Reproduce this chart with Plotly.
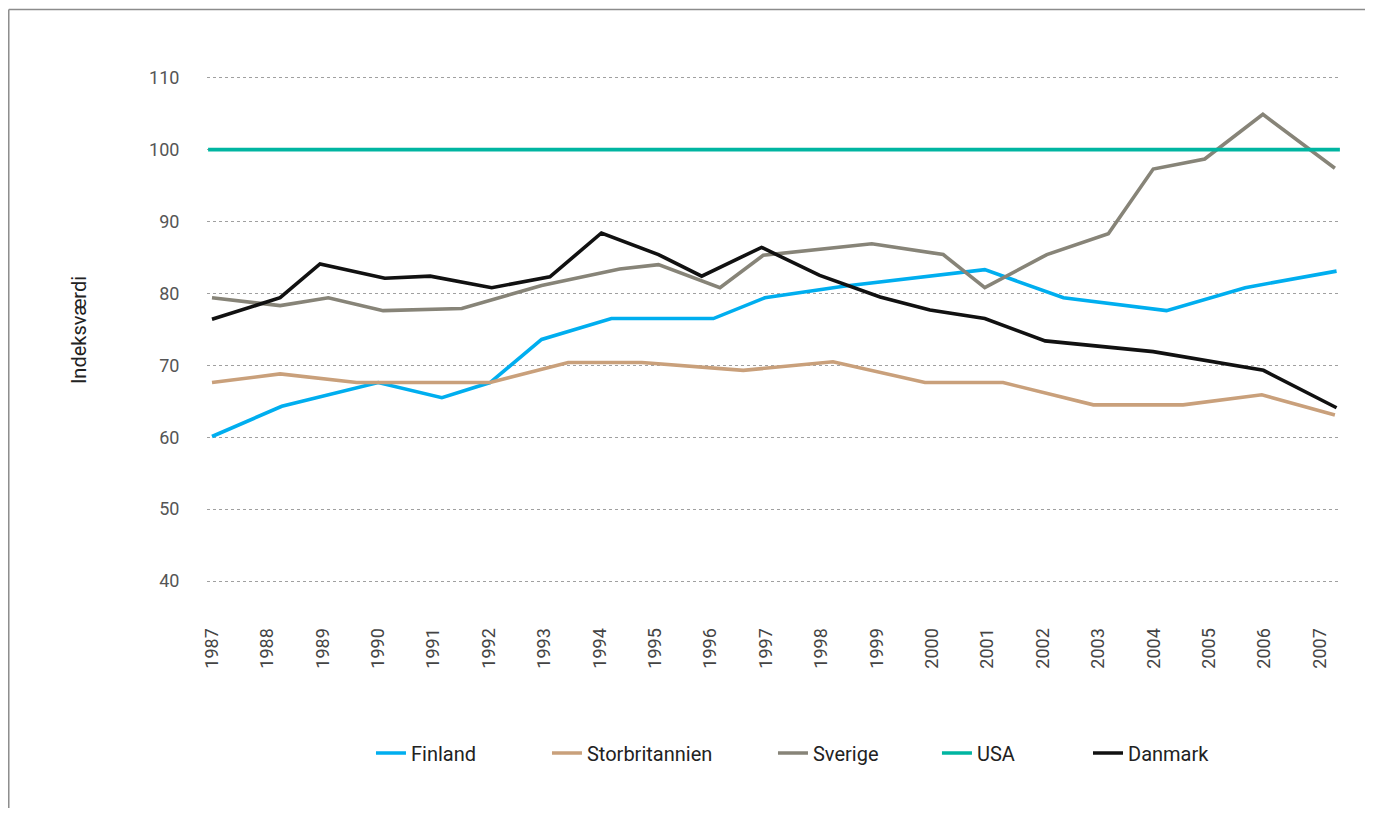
import plotly.graph_objects as go

# x positions are fractional years (points in the source are not evenly spaced)
fin_x = [1987.0, 1988.26, 1990.0, 1991.15, 1992.02, 1992.95, 1994.21, 1996.05, 1996.98, 1998.40, 2000.95, 2002.37, 2004.23, 2005.65, 2007.30]
fin_y = [60.1, 64.3, 67.6, 65.5, 67.6, 73.6, 76.5, 76.5, 79.4, 81.0, 83.3, 79.4, 77.6, 80.8, 83.1]

gbr_x = [1987.0, 1988.23, 1989.61, 1992.02, 1993.43, 1994.76, 1996.59, 1998.21, 1999.87, 2001.28, 2002.91, 2004.53, 2005.95, 2007.27]
gbr_y = [67.6, 68.8, 67.6, 67.6, 70.4, 70.4, 69.3, 70.5, 67.6, 67.6, 64.5, 64.5, 65.9, 63.1]

swe_x = [1987.0, 1988.23, 1989.10, 1990.09, 1991.51, 1992.95, 1994.36, 1995.06, 1996.17, 1996.95, 1998.91, 2000.20, 2000.95, 2002.07, 2003.18, 2003.99, 2004.92, 2005.97, 2007.27]
swe_y = [79.4, 78.3, 79.4, 77.6, 77.9, 81.1, 83.4, 84.0, 80.8, 85.3, 86.9, 85.4, 80.8, 85.4, 88.3, 97.3, 98.7, 104.9, 97.4]

usa_x = [1986.93, 2007.36]
usa_y = [100, 100]

dnk_x = [1987.0, 1988.23, 1988.95, 1990.12, 1990.94, 1992.05, 1993.10, 1994.03, 1995.06, 1995.84, 1996.92, 1997.97, 1999.06, 1999.96, 2000.95, 2002.04, 2003.99, 2005.98, 2007.30]
dnk_y = [76.4, 79.4, 84.1, 82.1, 82.4, 80.8, 82.3, 88.4, 85.4, 82.4, 86.4, 82.5, 79.5, 77.7, 76.5, 73.4, 71.9, 69.3, 64.1]

years = list(range(1987, 2008))
year_labels = [str(y) for y in years]
y_ticks = [40, 50, 60, 70, 80, 90, 100, 110]

series = [
    ("Finland", fin_x, fin_y, "#00AEEF", "legend"),
    ("Storbritannien", gbr_x, gbr_y, "#C9A07B", "legend2"),
    ("Sverige", swe_x, swe_y, "#878478", "legend3"),
    ("USA", usa_x, usa_y, "#00B5A1", "legend4"),
    ("Danmark", dnk_x, dnk_y, "#111111", "legend5"),
]

fig = go.Figure()
for name, xs, ys, col, lg in series:
    fig.add_trace(go.Scatter(x=xs, y=ys, mode="lines", name=name, legend=lg,
                             line=dict(color=col, width=3.6)))

leg_font = dict(size=20, color="#222222", family="Roboto, sans-serif")
leg_x = [0.1446, 0.2998, 0.4991, 0.6437, 0.7769]
leg_common = dict(orientation="h", xanchor="left", y=-0.2833, yanchor="middle",
                  font=leg_font, bgcolor="rgba(0,0,0,0)")

fig.update_layout(
    width=1357, height=800,
    margin=dict(l=199, r=24, t=52, b=208),
    paper_bgcolor="white", plot_bgcolor="white",
    font=dict(family="Roboto, sans-serif", color="#555555"),
    showlegend=True,
    legend=dict(x=leg_x[0], **leg_common),
    legend2=dict(x=leg_x[1], **leg_common),
    legend3=dict(x=leg_x[2], **leg_common),
    legend4=dict(x=leg_x[3], **leg_common),
    legend5=dict(x=leg_x[4], **leg_common),
    shapes=[
        dict(type="line", xref="paper", yref="paper", x0=-0.1748, x1=1.03, y0=1.0935, y1=1.0935,
             line=dict(color="#8c8c8c", width=1.5)),
        dict(type="line", xref="paper", yref="paper", x0=-0.1748, x1=-0.1748, y0=1.0935, y1=-0.5,
             line=dict(color="#8c8c8c", width=1.5)),
    ],
)

fig.update_xaxes(
    range=[1986.91, 2007.38],
    tickmode="array", tickvals=years, ticktext=year_labels,
    tickangle=-90, tickfont=dict(size=18, color="#444444"),
    ticks="outside", ticklen=20, tickcolor="rgba(0,0,0,0)",
    showgrid=False, zeroline=False, showline=False,
)
fig.update_yaxes(
    range=[37.36, 112.46],
    tickmode="array", tickvals=y_ticks,
    tickfont=dict(size=18, color="#555555"),
    ticks="outside", ticklen=23, tickcolor="rgba(0,0,0,0)",
    showgrid=True, gridcolor="#a0a0a0", gridwidth=1, griddash="dot",
    zeroline=False, showline=False,
    title=dict(text="Indeksværdi", font=dict(size=20, color="#222222"), standoff=57),
)

fig.write_html("out.html")
